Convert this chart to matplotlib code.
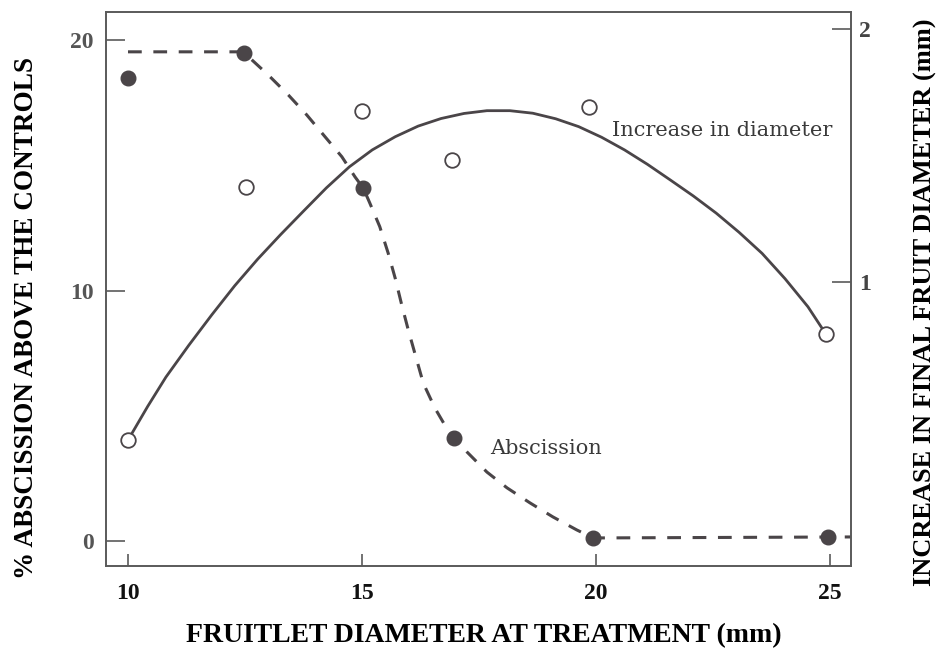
import matplotlib
matplotlib.use("Agg")
import matplotlib.pyplot as plt

# ---- data ----
# Abscission (% above controls), filled dots, left axis
absc_x = [10.0, 12.48, 15.02, 16.97, 19.94, 24.96]
absc_y = [18.5, 19.5, 14.1, 4.1, 0.12, 0.16]

# Abscission hand-drawn dashed trend curve
absc_curve_x = [10.0, 12.46, 13.00, 13.43, 13.82, 14.21, 14.57, 14.85, 15.03,
                15.17, 15.38, 15.56, 15.71, 15.85, 15.99, 16.15, 16.31, 16.56,
                16.81, 16.99, 17.24, 17.67, 18.10, 18.59, 19.08, 19.59, 19.94,
                25.45]
absc_curve_y = [19.53, 19.53, 18.60, 17.80, 17.01, 16.14, 15.34, 14.54, 14.08,
                13.48, 12.55, 11.49, 10.49, 9.42, 8.42, 7.36, 6.30, 5.30,
                4.50, 4.10, 3.56, 2.75, 2.12, 1.52, 0.96, 0.44, 0.12,
                0.16]

# Increase in final fruit diameter (mm), open circles, right axis
diam_x = [10.0, 12.52, 15.0, 16.92, 19.85, 24.91]
diam_y = [0.375, 1.375, 1.676, 1.482, 1.692, 0.795]

# Fitted smooth curve for diameter
diam_curve_x = [10.0, 10.42, 10.81, 11.30, 11.79, 12.28, 12.77, 13.26, 13.75,
                14.24, 14.73, 15.22, 15.71, 16.20, 16.69, 17.18, 17.67, 18.16,
                18.65, 19.14, 19.63, 20.12, 20.61, 21.10, 21.59, 22.08, 22.57,
                23.06, 23.55, 24.04, 24.53, 24.91]
diam_curve_y = [0.375, 0.508, 0.624, 0.750, 0.870, 0.985, 1.090, 1.187, 1.280,
                1.372, 1.455, 1.522, 1.574, 1.616, 1.646, 1.666, 1.677, 1.677,
                1.667, 1.645, 1.614, 1.572, 1.522, 1.465, 1.403, 1.340, 1.272,
                1.196, 1.113, 1.013, 0.902, 0.795]

x_ticks = [10, 15, 20, 25]
left_ticks = [0, 10, 20]
right_ticks = [1, 2]

line_col = "#4a4548"
spine_col = "#5a5a5a"
serif = ["Liberation Serif", "DejaVu Serif"]

fig = plt.figure(figsize=(9.36, 6.55), dpi=100)
ax = fig.add_axes([106/936, 1-566/655, (851-106)/936, (566-12)/655])
ax2 = ax.twinx()

ax.set_xlim(9.53, 25.45)
ax.set_ylim(-1.0, 21.12)
ax2.set_ylim(-0.1225, 2.067)

# abscission
ax.plot(absc_curve_x, absc_curve_y, color=line_col, lw=2.2,
        linestyle=(0, (4.5, 3.8)), zorder=2, clip_on=False)
ax.plot(absc_x, absc_y, 'o', color=line_col, markersize=10.5, zorder=3,
        clip_on=False)

# diameter
ax2.plot(diam_curve_x, diam_curve_y, color=line_col, lw=2.0, zorder=2,
         solid_joinstyle='round')
ax2.plot(diam_x, diam_y, 'o', markerfacecolor='white', markeredgecolor=line_col,
         markeredgewidth=1.3, markersize=10.5, zorder=3)

# ticks
ax.set_xticks(x_ticks)
ax.set_xticklabels([str(t) for t in x_ticks], fontfamily=serif,
                   fontweight='bold', fontsize=17, color='#111111')
ax.set_yticks(left_ticks)
ax.set_yticklabels([str(t) for t in left_ticks], fontfamily=serif,
                   fontweight='bold', fontsize=17, color='#555555')
ax2.set_yticks(right_ticks)
ax2.set_yticklabels([str(t) for t in right_ticks], fontfamily=serif,
                    fontweight='bold', fontsize=17, color='#444444')

ax.tick_params(axis='x', direction='in', length=9, width=1.2, color=spine_col,
               pad=12)
ax.tick_params(axis='y', direction='in', length=14, width=1.2, color=spine_col,
               pad=9)
ax2.tick_params(axis='y', direction='in', length=14, width=1.2, color=spine_col,
                pad=6)

for a in (ax, ax2):
    for s in a.spines.values():
        s.set_color(spine_col)
        s.set_linewidth(1.2)

# axis labels
fig.text(484/936, 1-636/655, "FRUITLET DIAMETER AT TREATMENT (mm)",
         ha='center', va='center', fontfamily=serif, fontweight='bold',
         fontsize=20, color='black')
fig.text(27/936, 1-318/655, "% ABSCISSION ABOVE THE CONTROLS",
         ha='center', va='center', rotation=90, fontfamily=serif,
         fontweight='bold', fontsize=19.5, color='black')
fig.text(925/936, 1-302/655, "INCREASE IN FINAL FRUIT DIAMETER (mm)",
         ha='center', va='center', rotation=90, fontfamily=serif,
         fontweight='bold', fontsize=19, color='black')

# in-plot annotations
ax.text(20.34, 16.4, "Increase in diameter", ha='left', va='center',
        fontfamily=["DejaVu Serif"], fontsize=15, color='#3a3a3a')
ax.text(17.73, 3.71, "Abscission", ha='left', va='center',
        fontfamily=["DejaVu Serif"], fontsize=15, color='#3a3a3a')

fig.savefig("out.png", dpi=100, facecolor='white')
